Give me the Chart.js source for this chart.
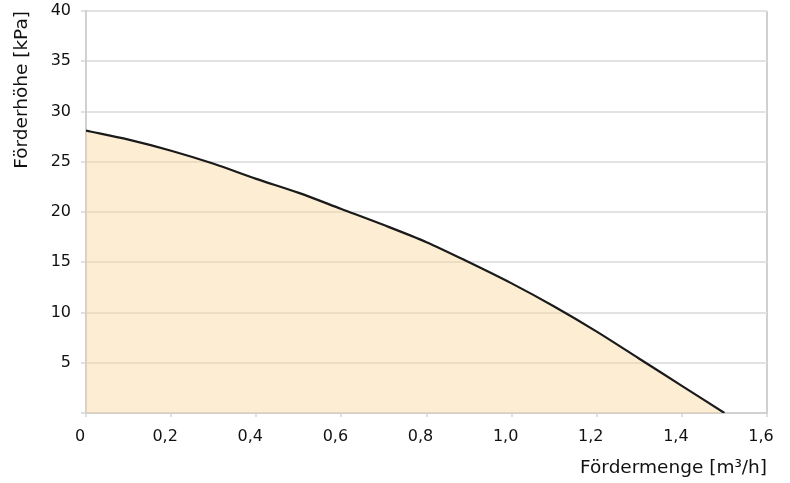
<!DOCTYPE html>
<html>
<head>
<meta charset="utf-8">
<script src="https://cdn.jsdelivr.net/npm/chart.js@4"></script>
<style>
  html, body { margin: 0; padding: 0; background: #fff; }
  #wrap { width: 790px; height: 483px; }
</style>
</head>
<body>
<div id="wrap"><canvas id="pumpChart" width="790" height="483"></canvas></div>
<script>
// Kennlinie
let flowValues = [0, 0.1, 0.2, 0.3, 0.4, 0.5, 0.6, 0.7, 0.8, 0.9, 1.0, 1.1, 1.2, 1.3, 1.4, 1.5];
let headValues = [28.1, 27.2, 26.1, 24.8, 23.3, 21.9, 20.3, 18.7, 17.0, 15.0, 12.9, 10.6, 8.1, 5.4, 2.7, 0];
let xTitle = "Fördermenge [m³/h]";
let yTitle = "Förderhöhe [kPa]";

let points = flowValues.map((x, i) => ({ x: x, y: headValues[i] }));

Chart.defaults.font.family = "'DejaVu Sans', sans-serif";
Chart.defaults.color = '#111';

var ctx = document.getElementById('pumpChart').getContext('2d');
var chart = new Chart(ctx, {
  type: 'scatter',
  data: {
    datasets: [{
      data: points,
      showLine: true,
      borderColor: '#1a1a1a',
      borderWidth: 2.2,
      pointRadius: 0,
      tension: 0.3,
      fill: 'origin',
      backgroundColor: 'rgba(250, 215, 155, 0.45)'
    }]
  },
  options: {
    responsive: false,
    animation: false,
    layout: { padding: { top: 11, right: 23, left: 0, bottom: 0 } },
    plugins: { legend: { display: false }, tooltip: { enabled: false } },
    scales: {
      x: {
        type: 'linear',
        min: 0,
        max: 1.6,
        afterFit: function(scale) { scale.height = 70; },
        border: { color: '#d0d0d0', width: 2 },
        grid: {
          color: c => (c.tick && c.tick.value > 1.59) ? '#d0d0d0' : 'rgba(0,0,0,0)',
          lineWidth: 2,
          tickColor: '#e0e0e0',
          tickLength: 4
        },
        ticks: {
          stepSize: 0.2,
          padding: 10,
          labelOffset: -6,
          font: { size: 16 },
          callback: v => v === 0 ? '0' : v.toFixed(1).replace('.', ',')
        },
        title: {
          display: true,
          text: xTitle,
          align: 'end',
          font: { size: 18.5 },
          padding: { top: 2 }
        }
      },
      y: {
        min: 0,
        max: 40,
        afterFit: function(scale) { scale.width = 86; scale.paddingTop = 0; },
        border: { color: '#d0d0d0', width: 2 },
        grid: {
          color: '#e2e2e2',
          lineWidth: 2,
          tickColor: '#e0e0e0',
          tickLength: 5
        },
        ticks: {
          stepSize: 5,
          padding: 10,
          font: { size: 16 },
          callback: v => v === 0 ? '' : v
        },
        title: {
          display: true,
          text: yTitle,
          align: 'end',
          font: { size: 18.5 },
          padding: { top: 11, bottom: 0 }
        }
      }
    }
  }
});
</script>
</body>
</html>
